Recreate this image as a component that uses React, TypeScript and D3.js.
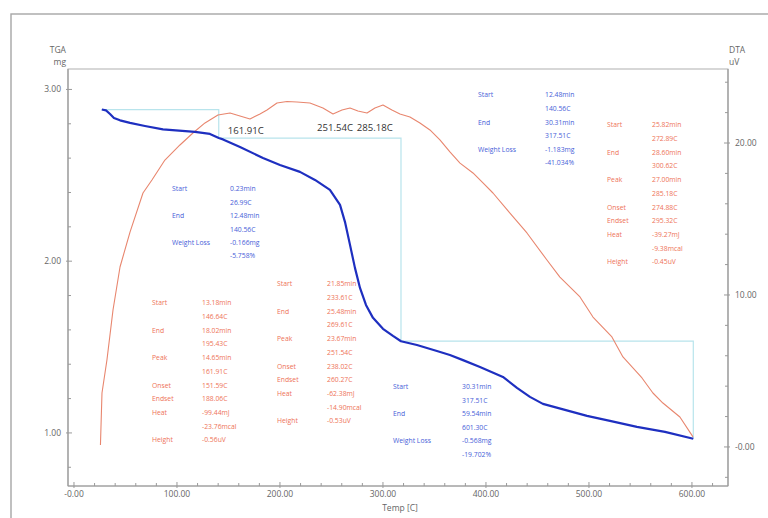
import { useMemo } from 'react';
import * as d3 from 'd3';

// ─── Data ─────────────────────────────────────────────────────────────────────
// TGA curve: temperature (C) vs mass (mg)
const tgaTemp = [27.0, 31.1, 35.0, 38.8, 44.7, 54.4, 68.9, 86.4, 117.5, 132.0, 140.6, 144.7, 161.2, 183.5, 200.0,
  219.4, 234.0, 248.5, 258.3, 263.1, 268.0, 272.8, 277.7, 283.5, 290.3, 300.0, 309.7, 317.5, 333.0, 352.4, 365.0,
  377.7, 394.2, 416.5, 430.1, 442.7, 455.3, 476.7, 498.1, 520.4, 546.6, 573.8, 601.3];
const tgaMass = [2.883, 2.878, 2.857, 2.834, 2.820, 2.805, 2.787, 2.767, 2.753, 2.741, 2.717, 2.709, 2.665, 2.601, 2.560,
  2.520, 2.473, 2.415, 2.328, 2.229, 2.095, 1.961, 1.844, 1.745, 1.670, 1.606, 1.565, 1.534, 1.512, 1.477, 1.454,
  1.424, 1.384, 1.326, 1.262, 1.210, 1.169, 1.134, 1.099, 1.070, 1.035, 1.006, 0.966];

// DTA curve: temperature (C) vs signal (uV)
const dtaTemp = [25.7, 27.2, 32.0, 37.9, 44.7, 54.4, 67.0, 75.7, 88.3, 102.9, 115.5, 127.2, 139.8, 151.5, 161.2, 170.9,
  180.6, 187.4, 197.1, 206.8, 216.5, 229.1, 241.7, 251.5, 260.2, 268.0, 275.7, 284.5, 292.2, 300.0, 308.7, 316.5,
  326.2, 335.9, 345.6, 355.3, 365.0, 374.8, 387.4, 397.1, 406.8, 423.3, 439.8, 459.2, 471.8, 491.3, 503.9, 522.3,
  533.0, 551.5, 562.1, 571.8, 588.3, 601.0];
const dtaSignal = [0.13, 3.55, 5.72, 9.01, 11.84, 14.14, 16.71, 17.57, 18.88, 19.87, 20.66, 21.32, 21.84, 21.97, 21.78, 21.58,
  21.91, 22.17, 22.63, 22.73, 22.70, 22.63, 22.30, 21.91, 22.17, 22.30, 22.11, 21.97, 22.30, 22.50, 22.17, 21.91,
  21.71, 21.32, 20.86, 20.20, 19.41, 18.68, 18.03, 17.37, 16.71, 15.39, 14.08, 12.30, 11.18, 9.87, 8.55, 7.24,
  5.92, 4.54, 3.55, 2.89, 1.97, 0.66];

// Weight loss steps
const stepStartT = [26.99, 140.56, 317.51];
const stepEndT = [140.56, 317.51, 601.30];
const stepStartMass = [2.883, 2.717, 1.534];
const stepEndMass = [2.717, 1.534, 0.966];

// DTA peaks
const peakTemps = [161.91, 251.54, 285.18];
const peakLabels = ['161.91C', '251.54C', '285.18C'];

// Axis ticks
const xTicks = [0, 100, 200, 300, 400, 500, 600];
const xTickLabels = ['-0.00', '100.00', '200.00', '300.00', '400.00', '500.00', '600.00'];
const tgaTicks = [1, 2, 3];
const tgaTickLabels = ['1.00', '2.00', '3.00'];
const dtaTicks = [0, 10, 20];
const dtaTickLabels = ['-0.00', '10.00', '20.00'];

// Annotation blocks (label, values)
const lossBlock1 = [['Start', ['0.23min', '26.99C']], ['End', ['12.48min', '140.56C']], ['Weight Loss', ['-0.166mg', '-5.758%']]];
const lossBlock2 = [['Start', ['12.48min', '140.56C']], ['End', ['30.31min', '317.51C']], ['Weight Loss', ['-1.183mg', '-41.034%']]];
const lossBlock3 = [['Start', ['30.31min', '317.51C']], ['End', ['59.54min', '601.30C']], ['Weight Loss', ['-0.568mg', '-19.702%']]];
const peakBlock1 = [['Start', ['13.18min', '146.64C']], ['End', ['18.02min', '195.43C']], ['Peak', ['14.65min', '161.91C']],
  ['Onset', ['151.59C']], ['Endset', ['188.06C']], ['Heat', ['-99.44mJ', '-23.76mcal']], ['Height', ['-0.56uV']]];
const peakBlock2 = [['Start', ['21.85min', '233.61C']], ['End', ['25.48min', '269.61C']], ['Peak', ['23.67min', '251.54C']],
  ['Onset', ['238.02C']], ['Endset', ['260.27C']], ['Heat', ['-62.38mJ', '-14.90mcal']], ['Height', ['-0.53uV']]];
const peakBlock3 = [['Start', ['25.82min', '272.89C']], ['End', ['28.60min', '300.62C']], ['Peak', ['27.00min', '285.18C']],
  ['Onset', ['274.88C']], ['Endset', ['295.32C']], ['Heat', ['-39.27mJ', '-9.38mcal']], ['Height', ['-0.45uV']]];

// ─── Layout ───────────────────────────────────────────────────────────────────
const W = 768, H = 518;
const plot = { left: 68, right: 728, top: 69, bottom: 486 };
const FONT = '"Open Sans", "Noto Sans", sans-serif';
const BLUE = '#1e2fc0';
const ORANGE = '#e8866e';
const CYAN = '#b8e4ec';
const AXIS = '#9a9a9a';
const TXT_BLUE = '#4760d8';
const TXT_RED = '#ee7358';

// peak label nudges (px) relative to the peak temperature
const peakDx = [5, 2, 7];
const peakY = [131, 128, 128];

const blocks = [
  { rows: lossBlock1, lx: 172, vx: 230, y0: 189, step: 13.4, color: TXT_BLUE },
  { rows: lossBlock2, lx: 478, vx: 545, y0: 95, step: 13.6, color: TXT_BLUE },
  { rows: lossBlock3, lx: 393, vx: 462, y0: 387, step: 13.5, color: TXT_BLUE },
  { rows: peakBlock1, lx: 152, vx: 202, y0: 303, step: 13.7, color: TXT_RED },
  { rows: peakBlock2, lx: 277, vx: 327, y0: 284, step: 13.7, color: TXT_RED },
  { rows: peakBlock3, lx: 607, vx: 652, y0: 125, step: 13.7, color: TXT_RED },
];

function Block({ rows, lx, vx, y0, step, color }: any) {
  let line = 0;
  const out: any[] = [];
  rows.forEach(([label, vals]: any, i: number) => {
    out.push(<text key={'l' + i} x={lx} y={y0 + line * step} dy="0.35em">{label}</text>);
    vals.forEach((v: string, j: number) => {
      out.push(<text key={'v' + i + '-' + j} x={vx} y={y0 + (line + j) * step} dy="0.35em">{v}</text>);
    });
    line += vals.length;
  });
  return <g fill={color} fontSize={6.8} fontFamily={FONT}>{out}</g>;
}

export default function App() {
  const x = useMemo(() => d3.scaleLinear().domain([-5.8, 635]).range([plot.left, plot.right]), []);
  const yTga = useMemo(() => d3.scaleLinear().domain([0.691, 3.119]).range([plot.bottom, plot.top]), []);
  const yDta = useMemo(() => d3.scaleLinear().domain([-2.57, 24.87]).range([plot.bottom, plot.top]), []);

  const tgaPath = d3.line<number>().x((_, i) => x(tgaTemp[i])).y(d => yTga(d))(tgaMass) || '';
  const dtaPath = d3.line<number>().x((_, i) => x(dtaTemp[i])).y(d => yDta(d))(dtaSignal) || '';

  const stepPaths = stepStartT.map((t0, i) => {
    const p = d3.path();
    p.moveTo(x(t0), yTga(stepStartMass[i]));
    p.lineTo(x(stepEndT[i]), yTga(stepStartMass[i]));
    p.lineTo(x(stepEndT[i]), yTga(stepEndMass[i]));
    return p.toString();
  });

  const xMinor = d3.range(0, 621, 20).filter(v => !xTicks.includes(v));
  const tgaMinor = d3.range(0.8, 3.01, 0.2).filter(v => tgaTicks.every(t => Math.abs(t - v) > 1e-6));
  const dtaMinor = d3.range(-2, 24.1, 2).filter(v => !dtaTicks.includes(v));

  return (
    <div style={{ position: 'fixed', left: 0, top: 0, background: '#fff' }}>
      <svg width={W} height={H} style={{ display: 'block' }} fontFamily={FONT}>
        <rect x={0} y={0} width={W} height={H} fill="#fff" />
        {/* outer frame */}
        <rect x={11} y={14} width={W + 20} height={H + 20} fill="none" stroke="#a6a6a6" strokeWidth={1.4} />

        {/* plot frame */}
        <rect x={plot.left} y={plot.top} width={plot.right - plot.left} height={plot.bottom - plot.top}
          fill="none" stroke="#b0b0b0" strokeWidth={1} />
        <line x1={plot.left} x2={plot.left} y1={plot.top} y2={plot.bottom} stroke={AXIS} strokeWidth={1.2} />
        <line x1={plot.right} x2={plot.right} y1={plot.top} y2={plot.bottom} stroke={AXIS} strokeWidth={1.2} />
        <line x1={plot.left} x2={plot.right} y1={plot.bottom} y2={plot.bottom} stroke={AXIS} strokeWidth={1.2} />

        {/* left axis ticks */}
        {tgaTicks.map((t, i) => (
          <g key={'tg' + t}>
            <line x1={plot.left - 2} x2={plot.left + 4} y1={yTga(t)} y2={yTga(t)} stroke={AXIS} />
            <text x={plot.left - 7} y={yTga(t)} dy="0.35em" textAnchor="end" fontSize={8.5} fill="#666">{tgaTickLabels[i]}</text>
          </g>
        ))}
        {tgaMinor.map(t => (
          <line key={'tgm' + t} x1={plot.left} x2={plot.left + 3} y1={yTga(t)} y2={yTga(t)} stroke={AXIS} />
        ))}

        {/* right axis ticks */}
        {dtaTicks.map((t, i) => (
          <g key={'dt' + t}>
            <line x1={plot.right - 4} x2={plot.right + 2} y1={yDta(t)} y2={yDta(t)} stroke={AXIS} />
            <text x={plot.right + 7} y={yDta(t)} dy="0.35em" textAnchor="start" fontSize={8.5} fill="#666">{dtaTickLabels[i]}</text>
          </g>
        ))}
        {dtaMinor.map(t => (
          <line key={'dtm' + t} x1={plot.right - 3} x2={plot.right} y1={yDta(t)} y2={yDta(t)} stroke={AXIS} />
        ))}

        {/* bottom axis ticks */}
        {xTicks.map((t, i) => (
          <g key={'xt' + t}>
            <line x1={x(t)} x2={x(t)} y1={plot.bottom - 4} y2={plot.bottom + 2} stroke={AXIS} />
            <text x={x(t)} y={plot.bottom + 11} textAnchor="middle" fontSize={8.5} fill="#666">{xTickLabels[i]}</text>
          </g>
        ))}
        {xMinor.map(t => (
          <line key={'xm' + t} x1={x(t)} x2={x(t)} y1={plot.bottom - 3} y2={plot.bottom} stroke={AXIS} />
        ))}

        {/* axis titles */}
        <g fontSize={8.5} fill="#666">
          <text x={66} y={53} textAnchor="end">TGA</text>
          <text x={66} y={65} textAnchor="end">mg</text>
          <text x={729} y={53}>DTA</text>
          <text x={729} y={65}>uV</text>
          <text x={(plot.left + plot.right) / 2 + 2} y={plot.bottom + 25} textAnchor="middle">Temp  [C]</text>
        </g>

        {/* weight loss steps */}
        {stepPaths.map((d, i) => (
          <path key={'st' + i} d={d} fill="none" stroke={CYAN} strokeWidth={1.2} />
        ))}

        {/* DTA curve */}
        <path d={dtaPath} fill="none" stroke={ORANGE} strokeWidth={1.1} strokeLinejoin="round" />

        {/* TGA curve */}
        <path d={tgaPath} fill="none" stroke={BLUE} strokeWidth={2.2} strokeLinejoin="round" />

        {/* peak labels */}
        {peakTemps.map((t, i) => (
          <text key={'pk' + i} x={x(t) + peakDx[i]} y={peakY[i]} dy="0.35em" textAnchor="middle" fontSize={9.6} fill="#333">
            {peakLabels[i]}
          </text>
        ))}

        {/* annotation blocks */}
        {blocks.map((b, i) => <Block key={'b' + i} {...b} />)}
      </svg>
    </div>
  );
}
